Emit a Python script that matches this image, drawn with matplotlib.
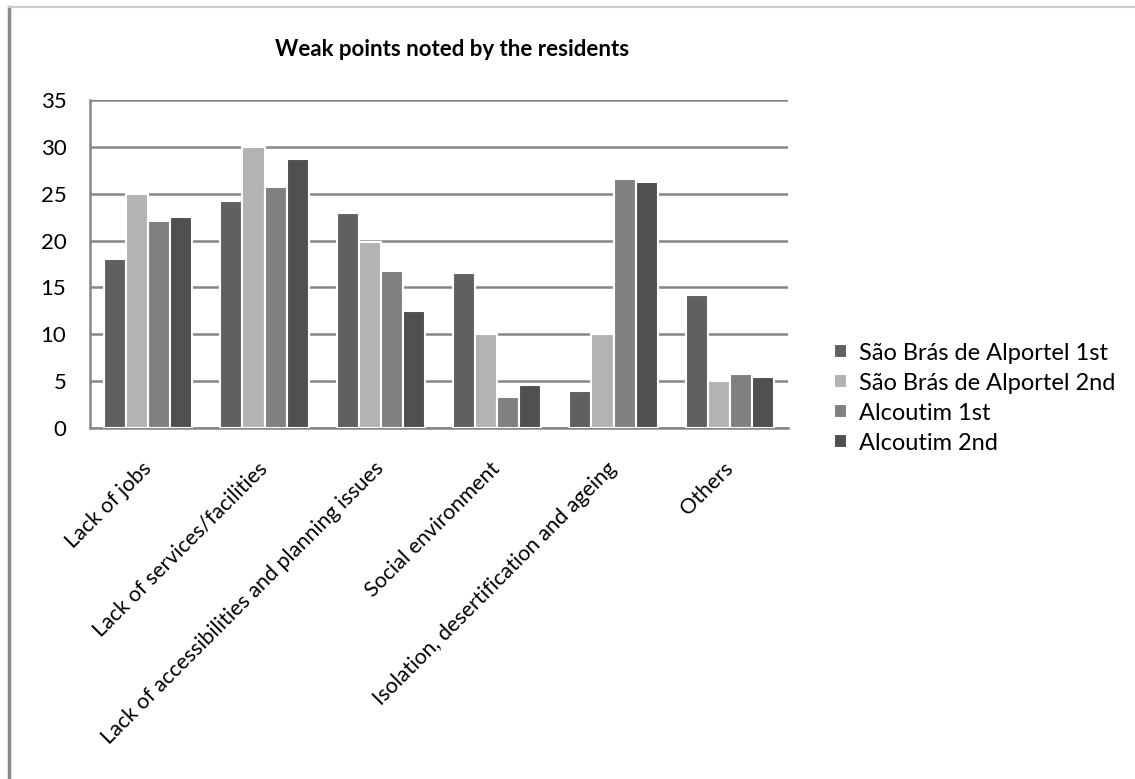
import matplotlib

matplotlib.use("Agg")
import matplotlib.pyplot as plt
import matplotlib.transforms as mtransforms
import numpy as np
from matplotlib.lines import Line2D

plt.rcParams["font.family"] = ["Lato", "DejaVu Sans"]

CATEGORIES = [
    "Lack of jobs",
    "Lack of services/facilities",
    "Lack of accessibilities and planning issues",
    "Social environment",
    "Isolation, desertification and ageing",
    "Others",
]
SERIES = [
    "São Brás de Alportel 1st",
    "São Brás de Alportel 2nd",
    "Alcoutim 1st",
    "Alcoutim 2nd",
]
SBA_1ST = [18.0, 24.2, 22.9, 16.5, 3.9, 14.2]
SBA_2ND = [25.0, 30.0, 19.9, 10.0, 10.0, 5.0]
ALC_1ST = [22.1, 25.7, 16.7, 3.3, 26.6, 5.8]
ALC_2ND = [22.5, 28.7, 12.5, 4.6, 26.3, 5.4]
COLORS = ["#606060", "#b3b3b3", "#808080", "#505050"]

fig = plt.figure(figsize=(11.35, 7.79), dpi=100)
ax = fig.add_axes([90 / 1135, 1 - 428 / 779, 698 / 1135, 328 / 779])

x = np.arange(len(CATEGORIES))
width = 0.19
for i, (vals, name) in enumerate(zip([SBA_1ST, SBA_2ND, ALC_1ST, ALC_2ND], SERIES)):
    ax.bar(x + (i - 1.5) * width, vals, width, color=COLORS[i], label=name,
           edgecolor="white", linewidth=1.5, zorder=3)

ax.set_xlim(-0.5, len(CATEGORIES) - 0.5)
ax.set_ylim(0, 35)
ax.set_yticks(range(0, 36, 5))
ax.yaxis.grid(True, color="#868686", linewidth=1.8, zorder=0)
ax.set_axisbelow(True)
for side in ["top", "right"]:
    ax.spines[side].set_visible(False)
for side in ["left", "bottom"]:
    ax.spines[side].set_color("#868686")
    ax.spines[side].set_linewidth(1.8)
ax.tick_params(axis="both", length=0)
ax.tick_params(axis="y", pad=17, labelsize=16)
ax.set_xticks(x)
ax.set_xticklabels(CATEGORIES, rotation=45, ha="right", va="top",
                   rotation_mode="anchor", fontsize=15.5)
ax.tick_params(axis="x", pad=22)
# nudge rotated labels so their ends sit under the category centres
shift = mtransforms.ScaledTranslation(-0.07, 0, fig.dpi_scale_trans)
for lab in ax.get_xticklabels():
    lab.set_transform(lab.get_transform() + shift)

fig.text(452 / 1135, 1 - 50 / 779, "Weak points noted by the residents",
         ha="center", va="center", fontsize=16, fontweight="bold")

ax.legend(loc="center left", bbox_to_anchor=(1.052, 0.091), frameon=False,
          fontsize=17, handlelength=0.55, handleheight=0.55, labelspacing=0.38,
          handletextpad=0.5, borderaxespad=0)

# chart frame
fig.add_artist(Line2D([9 / 1135, 9 / 1135], [0, 1 - 7 / 779], color="#8a8a8a",
                      linewidth=2.5, transform=fig.transFigure))
fig.add_artist(Line2D([9 / 1135, 1], [1 - 7 / 779, 1 - 7 / 779], color="#cccccc",
                      linewidth=1.5, transform=fig.transFigure))

fig.savefig("out.png", dpi=100)
